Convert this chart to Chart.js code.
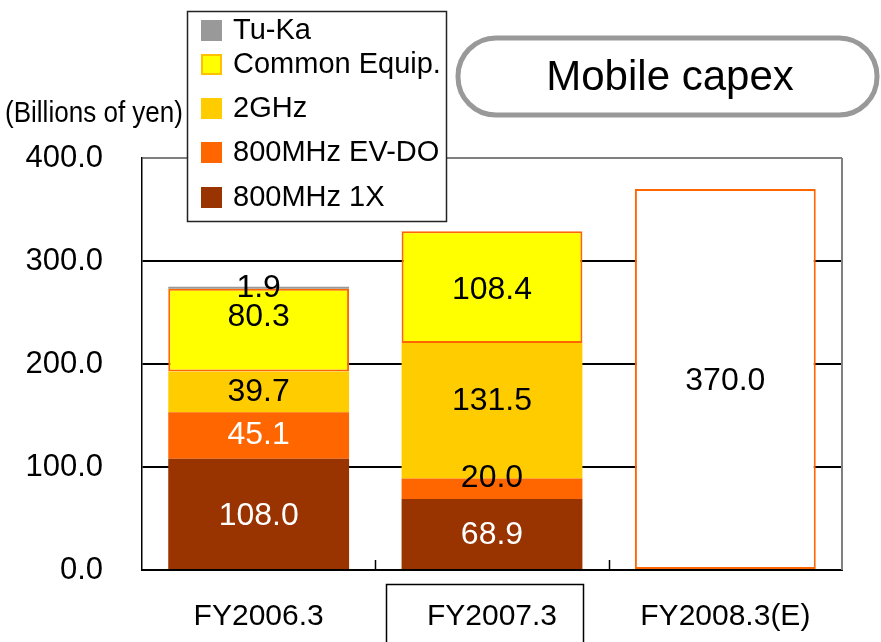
<!DOCTYPE html>
<html>
<head>
<meta charset="utf-8">
<script src="https://cdn.jsdelivr.net/npm/chart.js@4.4.1/dist/chart.umd.min.js"></script>
<style>
  html,body{margin:0;padding:0;background:#fff;}
  #wrap{width:881px;height:642px;position:relative;}
</style>
</head>
<body>
<div id="wrap"><canvas id="capex" width="881" height="642"></canvas></div>
<script>
// -------------------- data
var categories = ['FY2006.3', 'FY2007.3', 'FY2008.3(E)'];
var mhz800_1x = [108.0, 68.9, null];
var mhz800_evdo = [45.1, 20.0, null];
var ghz2 = [39.7, 131.5, null];
var commonEquip = [80.3, 108.4, null];
var tuka = [1.9, 0, null];
var forecastTotal = [null, null, 370.0];
var yTicks = [0, 100, 200, 300, 400];

var FONT = "'Liberation Sans', Arial, sans-serif";

// label colour / nudge per dataset, per category
var lblColor = [
  ['#fff', '#fff', '#000'],
  ['#fff', '#000', '#000'],
  ['#000', '#000', '#000'],
  ['#000', '#000', '#000'],
  ['#000', '#000', '#000'],
  ['#000', '#000', '#000']
];
var lblNudge = [
  [2, 1, 0],
  [0, -11, 0],
  [0, -10, 0],
  [-13, 3, 0],
  [0, 0, 0],
  [0, 0, 2]
];

var decorPlugin = {
  id: 'decor',
  beforeDatasetsDraw: function(chart){
    var c = chart.ctx, a = chart.chartArea;
    c.save();
    // right frame line
    c.strokeStyle = '#808080'; c.lineWidth = 2;
    c.beginPath(); c.moveTo(a.right, a.top); c.lineTo(a.right, a.bottom); c.stroke();
    c.restore();
  },
  afterDatasetsDraw: function(chart){
    var c = chart.ctx, a = chart.chartArea;
    c.save();
    // inward tick marks at category boundaries
    var step = (a.right - a.left) / categories.length;
    c.strokeStyle = '#000'; c.lineWidth = 1.5;
    for(var i = 1; i < categories.length; i++){
      var px = Math.round(a.left + step * i) + 0.5;
      c.beginPath(); c.moveTo(px, a.bottom); c.lineTo(px, a.bottom - 10); c.stroke();
    }
    // value labels
    c.font = '32px ' + FONT;
    c.textAlign = 'center'; c.textBaseline = 'middle';
    chart.data.datasets.forEach(function(ds, di){
      var meta = chart.getDatasetMeta(di);
      meta.data.forEach(function(el, i){
        var v = ds.data[i];
        if(v === null || v === 0) return;
        var y = (el.y + el.base) / 2 + lblNudge[di][i];
        c.fillStyle = lblColor[di][i];
        c.fillText(v.toFixed(1), el.x, y);
      });
    });
    c.restore();
  },
  afterDraw: function(chart){
    var c = chart.ctx;
    c.save();
    // y unit label, condensed
    c.font = '30px ' + FONT;
    c.fillStyle = '#000'; c.textBaseline = 'middle'; c.textAlign = 'left';
    var t = '(Billions of yen)';
    var w = c.measureText(t).width;
    c.save(); c.translate(5, 114); c.scale(178 / w, 1); c.fillText(t, 0, 0); c.restore();

    // title pill
    c.strokeStyle = '#999999'; c.lineWidth = 5;
    c.beginPath();
    c.roundRect(458, 38, 419, 77, 38);
    c.stroke();
    c.font = '42px ' + FONT; c.textAlign = 'center';
    c.fillText('Mobile capex', 670, 78);

    // legend box (top entry = top of the stack)
    c.fillStyle = '#fff';
    c.fillRect(187, 11, 259, 211);
    c.strokeStyle = '#222'; c.lineWidth = 1.5;
    c.strokeRect(187.5, 11.5, 259, 210);
    var rows = [4, 3, 2, 1, 0];
    var rowY = [30, 64, 108, 152, 197];
    c.font = '29px ' + FONT; c.textAlign = 'left';
    rows.forEach(function(di, r){
      var ds = chart.data.datasets[di];
      c.fillStyle = ds.backgroundColor;
      c.fillRect(201, rowY[r] - 10, 21, 21);
      if(ds.borderWidth){
        c.strokeStyle = '#FFC000'; c.lineWidth = 2;
        c.strokeRect(202, rowY[r] - 9, 19, 19);
      }
      c.fillStyle = '#000';
      c.fillText(ds.label, 233, rowY[r] + 1);
    });

    // box round the current-year category label
    c.strokeStyle = '#000'; c.lineWidth = 1.5;
    c.strokeRect(386.5, 584.5, 197, 70);
    c.restore();
  }
};

var ctx = document.getElementById('capex').getContext('2d');
window.capex = new Chart(ctx, {
  type: 'bar',
  data: {
    labels: categories,
    datasets: [
      { label: '800MHz 1X', data: mhz800_1x, backgroundColor: '#993300', borderWidth: 0 },
      { label: '800MHz EV-DO', data: mhz800_evdo, backgroundColor: '#FF6600', borderWidth: 0 },
      { label: '2GHz', data: ghz2, backgroundColor: '#FFCC00', borderWidth: 0 },
      { label: 'Common Equip.', data: commonEquip, backgroundColor: '#FFFF00', borderColor: '#FF6600', borderWidth: 2, borderSkipped: false },
      { label: 'Tu-Ka', data: tuka, backgroundColor: '#999999', borderWidth: 0 },
      { label: 'Total', data: forecastTotal, backgroundColor: '#FFFFFF', borderColor: '#FF6600', borderWidth: 2, borderSkipped: false }
    ]
  },
  options: {
    responsive: false,
    animation: false,
    layout: { padding: { left: 0, right: 39, top: 158, bottom: 0 } },
    plugins: { legend: { display: false }, tooltip: { enabled: false } },
    datasets: { bar: { barPercentage: 0.775, categoryPercentage: 1 } },
    scales: {
      x: {
        stacked: true,
        grid: { display: false },
        border: { color: '#000', width: 2 },
        ticks: { color: '#000', font: { family: FONT, size: 30 }, padding: 21 },
        afterFit: function(s){ s.height = 72; }
      },
      y: {
        stacked: true,
        min: 0, max: 400,
        afterBuildTicks: function(s){ s.ticks = yTicks.map(function(v){ return { value: v }; }); },
        grid: {
          color: function(g){ return g.tick && g.tick.value === 400 ? '#808080' : '#000'; },
          lineWidth: 2,
          drawTicks: false
        },
        border: { color: '#000', width: 1.5 },
        ticks: {
          color: '#000', padding: 39,
          font: { family: FONT, size: 31 },
          callback: function(v){ return Number(v).toFixed(1); }
        },
        afterFit: function(s){ s.width = 142; }
      }
    }
  },
  plugins: [decorPlugin]
});
</script>
</body>
</html>
